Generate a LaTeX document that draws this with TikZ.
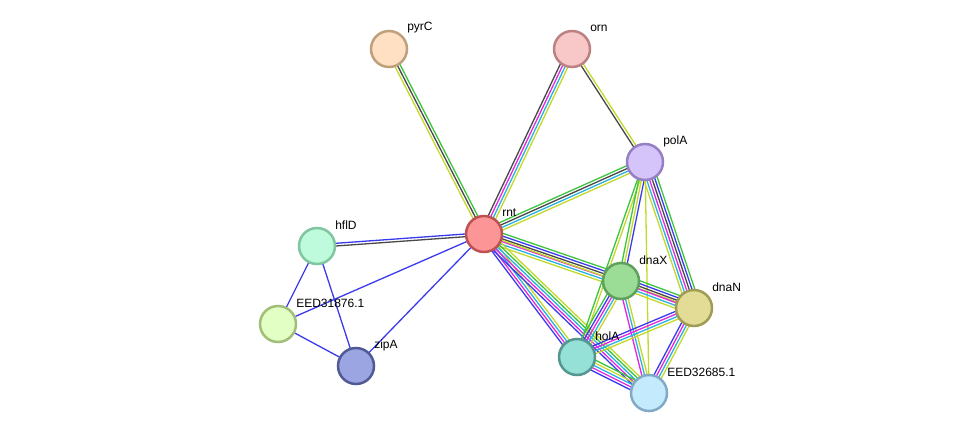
\documentclass[tikz,border=0pt]{standalone}
\usepackage{fontspec}
\setmainfont{Liberation Sans}
\usetikzlibrary{calc, backgrounds}

\definecolor{cgreen}{RGB}{60,196,60}
\definecolor{cblue}{RGB}{58,58,238}
\definecolor{cmag}{RGB}{226,40,226}
\definecolor{ccyan}{RGB}{40,178,222}
\definecolor{cdark}{RGB}{72,72,72}
\definecolor{clime}{RGB}{196,216,44}

% node fills and rims
\definecolor{pyrCfill}{RGB}{255,224,194}  \definecolor{pyrCrim}{RGB}{190,160,125}
\definecolor{ornfill}{RGB}{248,200,200}   \definecolor{ornrim}{RGB}{188,130,130}
\definecolor{polAfill}{RGB}{212,196,250}  \definecolor{polArim}{RGB}{150,128,196}
\definecolor{rntfill}{RGB}{252,150,150}   \definecolor{rntrim}{RGB}{190,82,82}
\definecolor{hflDfill}{RGB}{190,250,220}  \definecolor{hflDrim}{RGB}{128,198,158}
\definecolor{eAfill}{RGB}{226,255,196}    \definecolor{eArim}{RGB}{160,190,120}
\definecolor{zipAfill}{RGB}{155,165,225}  \definecolor{zipArim}{RGB}{80,90,150}
\definecolor{dnaXfill}{RGB}{155,220,150}  \definecolor{dnaXrim}{RGB}{95,160,95}
\definecolor{dnaNfill}{RGB}{226,220,150}  \definecolor{dnaNrim}{RGB}{160,155,85}
\definecolor{holAfill}{RGB}{150,225,215}  \definecolor{holArim}{RGB}{85,150,145}
\definecolor{eBfill}{RGB}{196,234,254}    \definecolor{eBrim}{RGB}{130,170,196}

% one coloured line per evidence channel, side by side
\newcommand{\linkbundle}[3]{%
  \foreach \c [count=\k] in {#3} {\xdef\nlines{\k}}%
  \foreach \c [count=\k] in {#3} {%
    \pgfmathsetmacro\off{(\k-(\nlines+1)/2)*2.7}%
    \draw[link, color=\c] ($(#1.center)!\off pt!90:(#2.center)$) -- ($(#2.center)!\off pt!-90:(#1.center)$);
  }}

\begin{document}
\begin{tikzpicture}[
  x=1pt, y=-1pt, font=\fontsize{12}{14}\selectfont,
  prot/.style={circle, draw=#1rim, fill=#1fill, line width=2.5pt, minimum size=36pt, inner sep=0pt},
  lbl/.style={inner sep=0pt, xshift=-1.2pt, yshift=21pt},
  link/.style={line width=1.3pt}
]
\useasboundingbox (0,0) rectangle (976,439);

\node[prot=pyrC, label={[lbl]right:pyrC}] (pyrC) at (389,49) {};
\node[prot=orn, label={[lbl]right:orn}] (orn) at (572,49) {};
\node[prot=polA, label={[lbl]right:polA}] (polA) at (645,162) {};
\node[prot=rnt, label={[lbl]right:rnt}] (rnt) at (484,234) {};
\node[prot=hflD, label={[lbl]right:hflD}] (hflD) at (317,246) {};
\node[prot=eA, label={[lbl]right:EED31876.1}] (e31876) at (278,324) {};
\node[prot=zipA, label={[lbl]right:zipA}] (zipA) at (356,366) {};
\node[prot=dnaX, label={[lbl]right:dnaX}] (dnaX) at (621,281) {};
\node[prot=dnaN, label={[lbl]right:dnaN}] (dnaN) at (694,308) {};
\node[prot=holA, label={[lbl]right:holA}] (holA) at (577,357) {};
\node[prot=eB, label={[lbl]right:EED32685.1}] (e32685) at (649,393) {};

\begin{pgfonlayer}{background}
\linkbundle{pyrC}{rnt}{clime,cdark,cgreen}
\linkbundle{orn}{rnt}{cdark,cmag,ccyan,clime}
\linkbundle{orn}{polA}{cdark,clime}
\linkbundle{rnt}{polA}{clime,ccyan,cdark,cgreen}
\linkbundle{rnt}{hflD}{cblue,cdark}
\linkbundle{rnt}{e31876}{cblue}
\linkbundle{rnt}{zipA}{cblue}
\linkbundle{hflD}{e31876}{cblue}
\linkbundle{hflD}{zipA}{cblue}
\linkbundle{e31876}{zipA}{cblue}
\linkbundle{rnt}{dnaX}{clime,ccyan,cmag,cdark,cblue,cgreen}
\linkbundle{rnt}{dnaN}{clime}
\linkbundle{rnt}{holA}{cblue,cmag,ccyan,clime}
\linkbundle{rnt}{e32685}{cblue,cmag,ccyan,cgreen,clime}
\linkbundle{polA}{holA}{cgreen,clime}
\linkbundle{polA}{dnaX}{cgreen,clime,cblue}
\linkbundle{polA}{dnaN}{clime,ccyan,cmag,cdark,cblue,cgreen}
\linkbundle{polA}{e32685}{clime}
\linkbundle{dnaX}{dnaN}{clime,ccyan,cmag,cdark,cblue,cgreen}
\linkbundle{dnaX}{holA}{cgreen,cblue,cmag,ccyan,clime}
\linkbundle{dnaX}{e32685}{cmag,ccyan,clime}
\linkbundle{dnaN}{holA}{cblue,cmag,ccyan,clime}
\linkbundle{dnaN}{e32685}{cblue,cmag,ccyan,clime}
\linkbundle{holA}{e32685}{cblue,cmag,ccyan,clime,cgreen}
\end{pgfonlayer}

\end{tikzpicture}
\end{document}
